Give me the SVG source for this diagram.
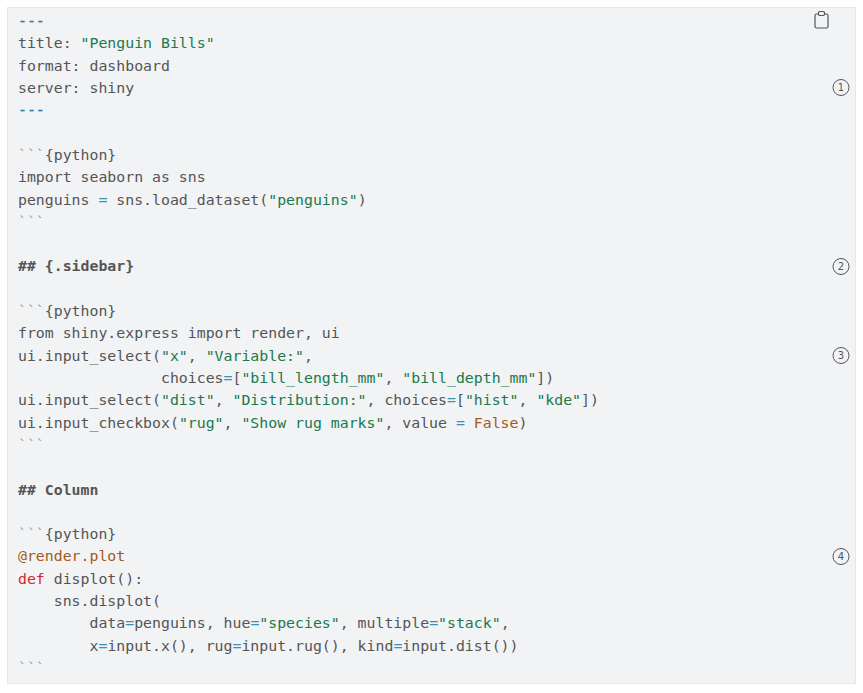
<svg xmlns="http://www.w3.org/2000/svg" width="863" height="693" viewBox="0 0 863 693">
<style>
text.c{font-family:"DejaVu Sans Mono","Liberation Mono",monospace;font-size:14.85px;fill:#555;white-space:pre}
text.dash{font-family:"DejaVu Sans Mono","Liberation Mono",monospace;font-size:14.85px;fill:#2d7fb0;stroke:#2d7fb0;stroke-width:0.4}
.s{fill:#20794d}
.o{fill:#3c8fb5}
.k{fill:#d7262e}
.b{fill:#a45a1e}
.bt{fill:#999}
.h{font-weight:bold}
.ann circle{fill:none;stroke:#555;stroke-width:1}
.ann text{font-family:"DejaVu Sans","Liberation Sans",sans-serif;font-size:10px;fill:#555;text-anchor:middle}
</style>
<rect x="0" y="0" width="863" height="693" fill="#fff"/>
<g id="codeblock">
<rect x="7.5" y="7.5" width="848" height="676" fill="#f1f3f5" stroke="#e6e8eb" stroke-width="1"/>
<text class="dash" x="18" y="26.2">---</text>
<text class="c" x="18" y="48.3">title: <tspan class="s">"Penguin Bills"</tspan></text>
<text class="c" x="18" y="70.6">format: dashboard</text>
<text class="c" x="18" y="92.9">server: shiny</text>
<text class="dash" x="18" y="115.2">---</text>
<text class="c" x="18" y="159.9"><tspan class="bt">```</tspan>{python}</text>
<text class="c" x="18" y="182.2">import seaborn as sns</text>
<text class="c" x="18" y="204.5">penguins <tspan class="o">=</tspan> sns.load_dataset(<tspan class="s">"penguins"</tspan>)</text>
<text class="c" x="18" y="226.8"><tspan class="bt">```</tspan></text>
<text class="c h" x="18" y="271.4">## {.sidebar}</text>
<text class="c" x="18" y="316"><tspan class="bt">```</tspan>{python}</text>
<text class="c" x="18" y="338.3">from shiny.express import render, ui</text>
<text class="c" x="18" y="360.7">ui.input_select(<tspan class="s">"x"</tspan>, <tspan class="s">"Variable:"</tspan>,</text>
<text class="c" x="18" y="383">                choices<tspan class="o">=</tspan>[<tspan class="s">"bill_length_mm"</tspan>, <tspan class="s">"bill_depth_mm"</tspan>])</text>
<text class="c" x="18" y="405.3">ui.input_select(<tspan class="s">"dist"</tspan>, <tspan class="s">"Distribution:"</tspan>, choices<tspan class="o">=</tspan>[<tspan class="s">"hist"</tspan>, <tspan class="s">"kde"</tspan>])</text>
<text class="c" x="18" y="427.6">ui.input_checkbox(<tspan class="s">"rug"</tspan>, <tspan class="s">"Show rug marks"</tspan>, value <tspan class="o">=</tspan> <tspan class="b">False</tspan>)</text>
<text class="c" x="18" y="449.9"><tspan class="bt">```</tspan></text>
<text class="c h" x="18" y="494.5">## Column</text>
<text class="c" x="18" y="539.1"><tspan class="bt">```</tspan>{python}</text>
<text class="c" x="18" y="561.4"><tspan class="b">@render.plot</tspan></text>
<text class="c" x="18" y="583.8"><tspan class="k">def</tspan> displot():</text>
<text class="c" x="18" y="606.1">    sns.displot(</text>
<text class="c" x="18" y="628.4">        data<tspan class="o">=</tspan>penguins, hue<tspan class="o">=</tspan><tspan class="s">"species"</tspan>, multiple<tspan class="o">=</tspan><tspan class="s">"stack"</tspan>,</text>
<text class="c" x="18" y="650.7">        x<tspan class="o">=</tspan>input.x(), rug<tspan class="o">=</tspan>input.rug(), kind<tspan class="o">=</tspan>input.dist())</text>
<text class="c" x="18" y="673"><tspan class="bt">```</tspan></text>
</g>
<g id="copy-icon" fill="none" stroke="#555" stroke-width="1.2">
<rect x="815" y="14" width="13" height="14" rx="1.5"/>
<rect x="818.5" y="11.5" width="6" height="4" rx="1.2" fill="#f1f3f5"/>
</g>
<g id="annotations" class="ann">
<g id="ann1"><circle cx="841" cy="87.5" r="8"/><text x="841" y="91.2">1</text></g>
<g id="ann2"><circle cx="841" cy="266.5" r="8"/><text x="841" y="270.2">2</text></g>
<g id="ann3"><circle cx="841" cy="355.5" r="8"/><text x="841" y="359.2">3</text></g>
<g id="ann4"><circle cx="841" cy="556.5" r="8"/><text x="841" y="560.2">4</text></g>
</g>
</svg>
